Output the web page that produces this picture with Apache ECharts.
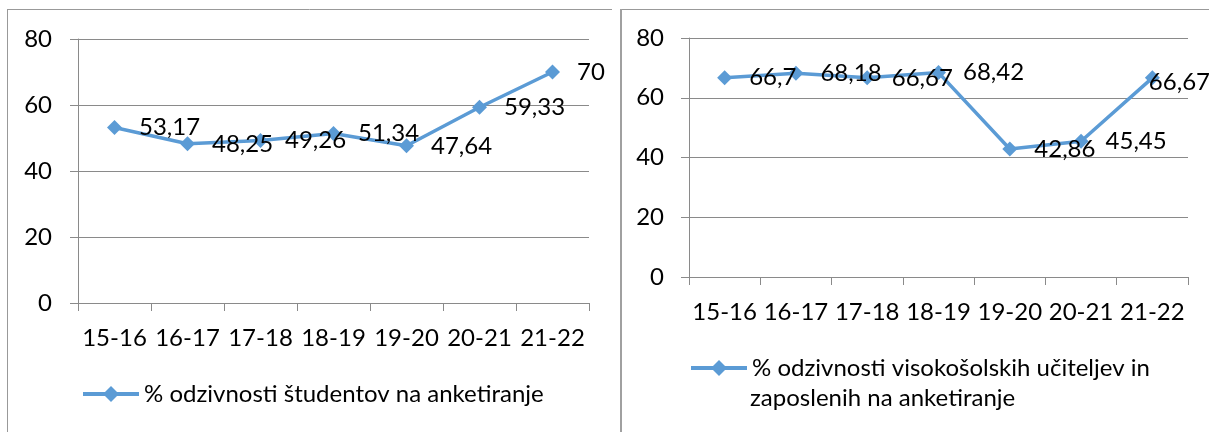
<!DOCTYPE html>
<html>
<head>
<meta charset="utf-8">
<script src="https://cdn.jsdelivr.net/npm/echarts@6/dist/echarts.min.js"></script>
<style>
  html, body { margin: 0; padding: 0; background: #fff; }
  #chart { width: 1209px; height: 432px; }
</style>
</head>
<body>
<div id="chart"></div>
<script>
var years = ['15-16', '16-17', '17-18', '18-19', '19-20', '20-21', '21-22'];
var yTicks = [0, 20, 40, 60, 80];
var studentValues = [53.17, 48.25, 49.26, 51.34, 47.64, 59.33, 70];
var staffValues = [66.7, 68.18, 66.67, 68.42, 42.86, 45.45, 66.67];
var studentName = '% odzivnosti študentov na anketiranje';
var staffName = '% odzivnosti visokošolskih učiteljev in';
var staffNameLine2 = 'zaposlenih na anketiranje';

var FONT = 'Lato';
var BLUE = '#5B9BD5';
var GRID_GRAY = '#8a8a8a';

var dom = document.getElementById('chart');
var myChart = echarts.init(dom, null, { renderer: 'canvas' });

function fmt(v) {
    return String(v).replace('.', ',');
}

function xAxisFor(idx) {
    return {
        type: 'category',
        gridIndex: idx,
        data: years,
        boundaryGap: true,
        axisLine: { show: true, lineStyle: { color: GRID_GRAY, width: 1 } },
        axisTick: { show: true, interval: 0, length: 8, alignWithLabel: false, lineStyle: { color: GRID_GRAY } },
        axisLabel: { interval: 0, hideOverlap: false, color: '#000', fontFamily: FONT, fontSize: 24, lineHeight: 24, margin: 23 },
        splitLine: { show: false }
    };
}

function yAxisFor(idx, margin) {
    return {
        type: 'value',
        gridIndex: idx,
        min: yTicks[0],
        max: yTicks[yTicks.length - 1],
        interval: 20,
        axisLine: { show: true, lineStyle: { color: GRID_GRAY, width: 1 } },
        axisTick: { show: true, length: 8, lineStyle: { color: GRID_GRAY } },
        axisLabel: { color: '#000', fontFamily: FONT, fontSize: 24, margin: margin },
        splitLine: { show: true, lineStyle: { color: GRID_GRAY, width: 1 } }
    };
}

function seriesFor(idx, name, values) {
    return {
        name: name,
        type: 'line',
        xAxisIndex: idx,
        yAxisIndex: idx,
        data: values.map(function (v, i) {
            // last label of the second chart is pushed back inside the frame
            if (idx === 1 && i === values.length - 1) {
                return { value: v, label: { offset: [-28, 4] } };
            }
            return v;
        }),
        symbol: 'diamond',
        symbolSize: 15,
        itemStyle: { color: BLUE },
        lineStyle: { color: BLUE, width: 3.5 },
        label: {
            show: true,
            position: 'right',
            distance: 17,
            color: '#000',
            fontFamily: FONT,
            fontSize: 24,
            formatter: function (p) { return fmt(p.value); }
        },
        animation: false
    };
}

var legendText = { color: '#000', fontFamily: FONT, fontSize: 24, lineHeight: 28 };

var option = {
    backgroundColor: '#fff',
    animation: false,
    grid: [
        { left: 78, top: 39, width: 511, height: 264 },
        { left: 689, top: 38, width: 499, height: 239 }
    ],
    xAxis: [xAxisFor(0), xAxisFor(1)],
    yAxis: [yAxisFor(0, 26), yAxisFor(1, 25)],
    legend: [
        {
            data: [studentName],
            left: 81,
            top: 380,
            padding: 0,
            itemWidth: 56,
            itemHeight: 20,
            itemGap: 4,
            lineStyle: { width: 4 },
            textStyle: legendText
        },
        {
            data: [staffName],
            left: 689,
            top: 354,
            padding: 0,
            itemWidth: 56,
            itemHeight: 20,
            lineStyle: { width: 4 },
            textStyle: legendText
        }
    ],
    graphic: [
        { type: 'line', shape: { x1: 7, y1: 9.5, x2: 612, y2: 9.5 }, style: { stroke: '#999', lineWidth: 1 } },
        { type: 'line', shape: { x1: 7.5, y1: 9, x2: 7.5, y2: 432 }, style: { stroke: '#999', lineWidth: 1 } },
        { type: 'line', shape: { x1: 621, y1: 9.5, x2: 1209, y2: 9.5 }, style: { stroke: '#999', lineWidth: 1 } },
        { type: 'line', shape: { x1: 621, y1: 9, x2: 621, y2: 432 }, style: { stroke: '#a0a0a0', lineWidth: 2 } },
        {
            type: 'text',
            left: 750,
            top: 386,
            style: { text: staffNameLine2, fill: '#000', font: '24px Lato' }
        }
    ],
    series: [
        seriesFor(0, studentName, studentValues),
        seriesFor(1, staffName, staffValues)
    ]
};

if (option && typeof option === 'object') {
    myChart.setOption(option);
}
</script>
</body>
</html>
